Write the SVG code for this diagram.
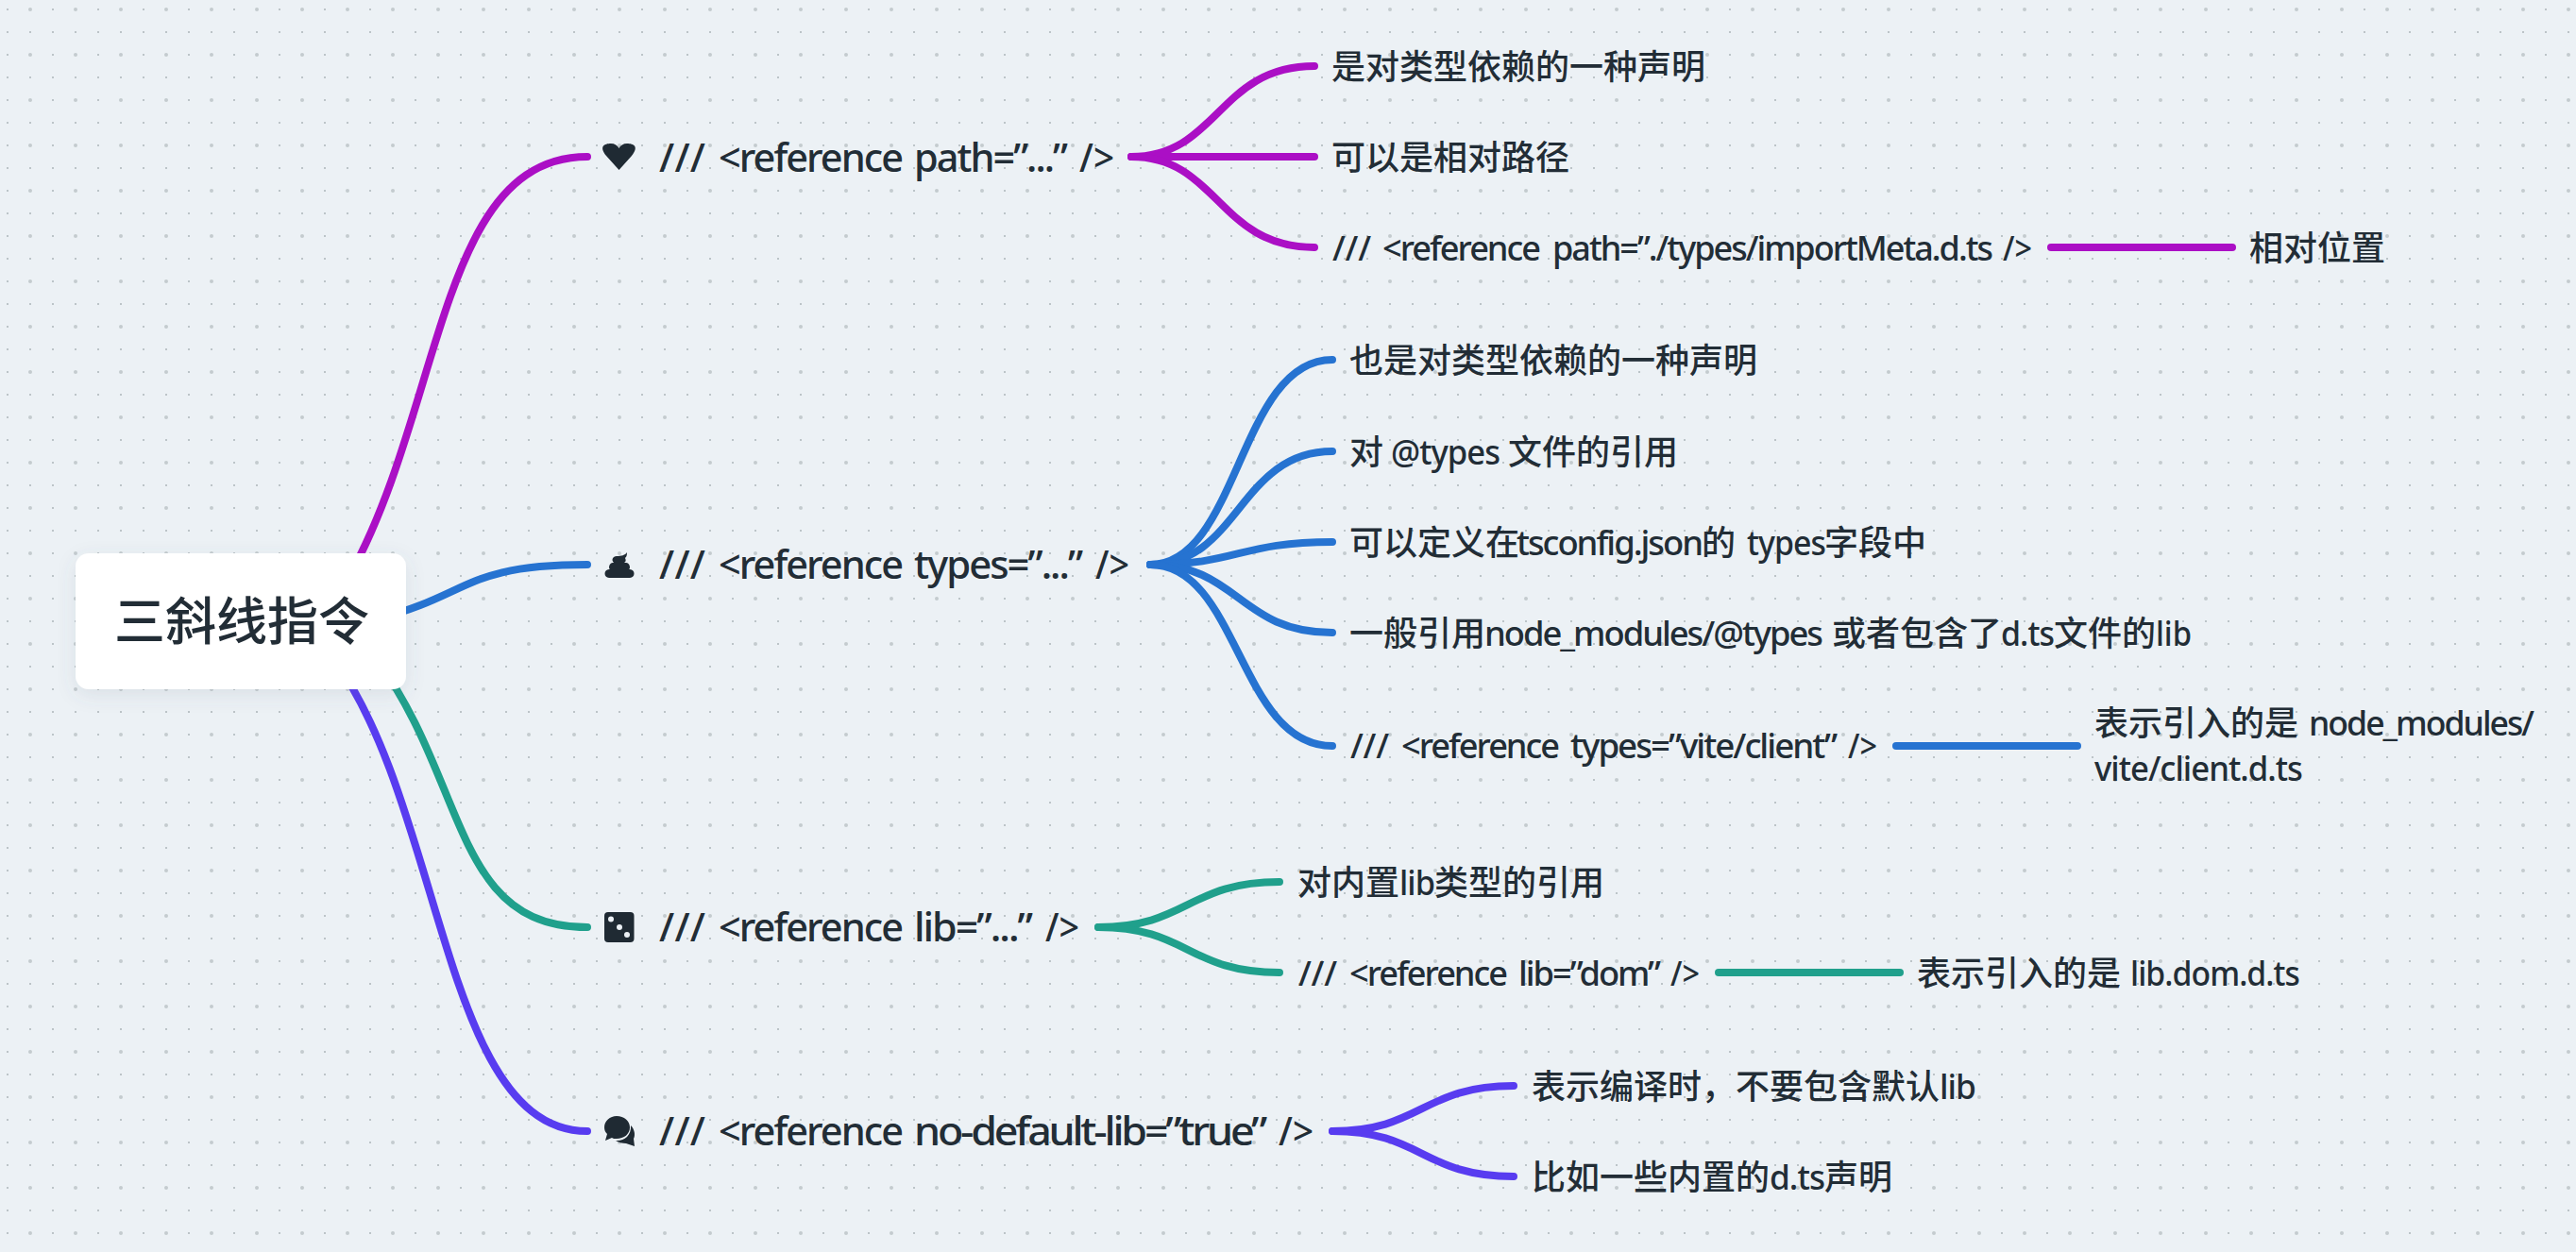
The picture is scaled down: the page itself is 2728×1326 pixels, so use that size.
<svg xmlns="http://www.w3.org/2000/svg" width="2728" height="1326" viewBox="0 0 2728 1326">
<style>
text{font-family:"Noto Sans","Noto Sans CJK SC",sans-serif;fill:#222d36;white-space:pre}
.h{font-size:42px;font-weight:500}
.s{font-size:36px;font-weight:500}
.r{font-size:54px;font-family:"Noto Sans CJK SC",sans-serif;font-weight:500}
.t{letter-spacing:-2px}
.u{letter-spacing:-3px}
.w{letter-spacing:-1px}
.ic{fill:#1f2a33}
#connectors path{fill:none;stroke-width:8;stroke-linecap:round}
.p{stroke:#ab0fc5}
.b{stroke:#2673d1}
.g{stroke:#20a08c}
.v{stroke:#583cf0}
</style>
<defs>
<pattern id="dots" width="48" height="48" patternUnits="userSpaceOnUse">
<rect x="7" y="9" width="2" height="2" fill="#bcc4c8"/>
<circle cx="32" cy="10" r="2" fill="#c4cbcf"/>
<rect x="7" y="33" width="2" height="2" fill="#bcc4c8"/>
<rect x="31" y="33" width="2" height="2" fill="#bcc4c8"/>
</pattern>
<filter id="sh" x="-20%" y="-30%" width="140%" height="170%"><feDropShadow dx="0" dy="6" stdDeviation="10" flood-color="#5a6a78" flood-opacity=".12"/></filter>
</defs>
<rect width="2728" height="1326" fill="#ecf1f5"/>
<rect width="2728" height="1326" fill="url(#dots)"/>
<g id="connectors">
<path class="p" d="M370,610C470,430 465,166 622,166"/>
<path class="b" d="M398,656C500,630 490,598 622,598"/>
<path class="g" d="M400,700C495,830 480,982 622,982"/>
<path class="v" d="M355,700C470,860 470,1198 622,1198"/>
<path class="p" d="M1198,166C1290,166 1290,70 1392,70"/>
<path class="p" d="M1198,166H1392"/>
<path class="p" d="M1198,166C1290,166 1290,262 1392,262"/>
<path class="p" d="M2172,262H2364"/>
<path class="b" d="M1218,598C1312,598 1312,381 1411,381"/>
<path class="b" d="M1218,598C1312,598 1312,478 1411,478"/>
<path class="b" d="M1218,598C1312,598 1312,574 1411,574"/>
<path class="b" d="M1218,598C1312,598 1312,670 1411,670"/>
<path class="b" d="M1218,598C1312,598 1312,790 1411,790"/>
<path class="b" d="M2008,790H2200"/>
<path class="g" d="M1163,982C1258,982 1258,934 1355,934"/>
<path class="g" d="M1163,982C1258,982 1258,1030 1355,1030"/>
<path class="g" d="M1820,1030H2012"/>
<path class="v" d="M1411,1198C1506,1198 1506,1150 1603,1150"/>
<path class="v" d="M1411,1198C1506,1198 1506,1246 1603,1246"/>
</g>
<g id="root"><rect x="80" y="586" width="350" height="144" rx="14" fill="#fff" filter="url(#sh)"/><text class="r" x="121" y="678">三斜线指令</text></g>
<g id="topic-path">
<path class="ic" d="M655.5,180L642,165C634,155 640,152 647,152C651,152 654,154 655.5,157C657,154 660,152 664,152C671,152 677,155 669,165Z"/>
<text class="h" y="182"><tspan x="698" textLength="49" lengthAdjust="spacing">///</tspan> <tspan class="t" x="761" textLength="194" lengthAdjust="spacingAndGlyphs">&lt;reference</tspan> <tspan class="t" x="968" textLength="161" lengthAdjust="spacingAndGlyphs">path=”...”</tspan> <tspan x="1143" textLength="37" lengthAdjust="spacingAndGlyphs">/&gt;</tspan></text>
</g>
<g id="path-1"><text class="s" x="1410" y="84">是对类型依赖的一种声明</text></g>
<g id="path-2"><text class="s" x="1410" y="180">可以是相对路径</text></g>
<g id="path-3"><text class="s" y="276"><tspan x="1411" textLength="41" lengthAdjust="spacing">///</tspan> <tspan class="t" x="1464" textLength="166" lengthAdjust="spacingAndGlyphs">&lt;reference</tspan> <tspan class="t" x="1644" textLength="465" lengthAdjust="spacingAndGlyphs">path=”./types/importMeta.d.ts</tspan> <tspan x="2121" textLength="31" lengthAdjust="spacingAndGlyphs">/&gt;</tspan></text></g>
<g id="path-3-1"><text class="s" x="2382" y="276">相对位置</text></g>
<g id="topic-types">
<path class="ic" d="M664,585C664,589 663,590 662,591C663,593 663,595 661,596L663,596C667,596 668,602 666,603L667,603C673,603 673,612 667,612H645C639,612 639,603 645,603L646,603C644,602 645,596 649,596L650,596C647,593 649,589 653,589C658,589 662,588 664,585Z"/>
<text class="h" y="613"><tspan x="698" textLength="49" lengthAdjust="spacing">///</tspan> <tspan class="t" x="761" textLength="194" lengthAdjust="spacingAndGlyphs">&lt;reference</tspan> <tspan class="t" x="968" textLength="177" lengthAdjust="spacingAndGlyphs">types=”...”</tspan> <tspan x="1160" textLength="36" lengthAdjust="spacingAndGlyphs">/&gt;</tspan></text>
</g>
<g id="types-1"><text class="s" x="1429" y="395">也是对类型依赖的一种声明</text></g>
<g id="types-2"><text class="s" y="492"><tspan x="1429">对</tspan> <tspan class="w" x="1473" textLength="115" lengthAdjust="spacingAndGlyphs">@types</tspan> <tspan x="1597">文件的引用</tspan></text></g>
<g id="types-3"><text class="s" y="588"><tspan x="1429">可以定义在</tspan><tspan class="t" x="1606" textLength="196" lengthAdjust="spacingAndGlyphs">tsconfig.json</tspan><tspan x="1802">的</tspan> <tspan class="w" x="1850" textLength="83" lengthAdjust="spacingAndGlyphs">types</tspan><tspan x="1932">字段中</tspan></text></g>
<g id="types-4"><text class="s" y="684"><tspan x="1429">一般引用</tspan><tspan class="t" x="1572" textLength="357" lengthAdjust="spacingAndGlyphs">node_modules/@types</tspan> <tspan x="1940">或者包含了</tspan><tspan class="w" x="2119" textLength="56" lengthAdjust="spacingAndGlyphs">d.ts</tspan><tspan x="2175">文件的</tspan><tspan x="2283" textLength="38" lengthAdjust="spacingAndGlyphs">lib</tspan></text></g>
<g id="types-5"><text class="s" y="803"><tspan x="1430" textLength="41" lengthAdjust="spacing">///</tspan> <tspan class="t" x="1484" textLength="166" lengthAdjust="spacingAndGlyphs">&lt;reference</tspan> <tspan class="t" x="1663" textLength="281" lengthAdjust="spacingAndGlyphs">types=”vite/client”</tspan> <tspan x="1957" textLength="31" lengthAdjust="spacingAndGlyphs">/&gt;</tspan></text></g>
<g id="types-5-1"><text class="s"><tspan x="2218" y="779">表示引入的是</tspan> <tspan class="t" x="2445" y="779" textLength="237" lengthAdjust="spacingAndGlyphs">node_modules/</tspan><tspan class="w" x="2218" y="827" textLength="220" lengthAdjust="spacingAndGlyphs">vite/client.d.ts</tspan></text></g>
<g id="topic-lib">
<rect class="ic" x="640" y="966" width="31.5" height="32" rx="4"/>
<circle cx="647" cy="973.5" r="3" fill="#ecf1f5"/><circle cx="656" cy="982" r="3" fill="#ecf1f5"/><circle cx="664" cy="990" r="3" fill="#ecf1f5"/>
<text class="h" y="997"><tspan x="698" textLength="49" lengthAdjust="spacing">///</tspan> <tspan class="t" x="761" textLength="194" lengthAdjust="spacingAndGlyphs">&lt;reference</tspan> <tspan class="t" x="968" textLength="124" lengthAdjust="spacingAndGlyphs">lib=”...”</tspan> <tspan x="1107" textLength="36" lengthAdjust="spacingAndGlyphs">/&gt;</tspan></text>
</g>
<g id="lib-1"><text class="s" y="948"><tspan x="1374">对内置</tspan><tspan class="w" x="1482" textLength="37" lengthAdjust="spacingAndGlyphs">lib</tspan><tspan x="1519">类型的引用</tspan></text></g>
<g id="lib-2"><text class="s" y="1044"><tspan x="1375" textLength="41" lengthAdjust="spacing">///</tspan> <tspan class="t" x="1429" textLength="166" lengthAdjust="spacingAndGlyphs">&lt;reference</tspan> <tspan class="t" x="1608" textLength="149" lengthAdjust="spacingAndGlyphs">lib=”dom”</tspan> <tspan x="1769" textLength="31" lengthAdjust="spacingAndGlyphs">/&gt;</tspan></text></g>
<g id="lib-2-1"><text class="s" y="1044"><tspan x="2030">表示引入的是</tspan> <tspan class="w" x="2256" textLength="179" lengthAdjust="spacingAndGlyphs">lib.dom.d.ts</tspan></text></g>
<g id="topic-nodefault">
<path class="ic" d="M653,1182C661,1182 667,1187 667,1194C667,1201 661,1206 653,1206C651,1206 649,1206 648,1205L641,1208L643,1201C641,1199 640,1197 640,1194C640,1187 646,1182 653,1182Z"/>
<path class="ic" d="M668,1192C672,1196 673,1202 671,1206L672,1214L663,1211C659,1211 655,1210 652,1208C660,1209 669,1203 668,1192Z"/>
<text class="h" y="1213"><tspan x="698" textLength="49" lengthAdjust="spacing">///</tspan> <tspan class="t" x="761" textLength="194" lengthAdjust="spacingAndGlyphs">&lt;reference</tspan> <tspan class="u" x="968" textLength="371" lengthAdjust="spacingAndGlyphs">no-default-lib=”true”</tspan> <tspan x="1354" textLength="37" lengthAdjust="spacingAndGlyphs">/&gt;</tspan></text>
</g>
<g id="nodefault-1"><text class="s" y="1164"><tspan x="1622">表示编译时，不要包含默认</tspan><tspan class="w" x="2054" textLength="38" lengthAdjust="spacingAndGlyphs">lib</tspan></text></g>
<g id="nodefault-2"><text class="s" y="1260"><tspan x="1622">比如一些内置的</tspan><tspan class="w" x="1874" textLength="58" lengthAdjust="spacingAndGlyphs">d.ts</tspan><tspan x="1932">声明</tspan></text></g>
</svg>
